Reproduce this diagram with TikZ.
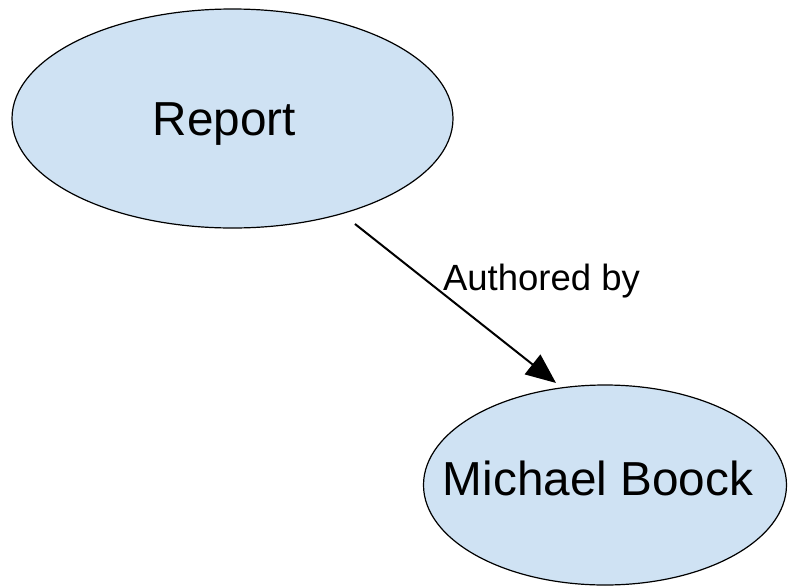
\documentclass[tikz,border=0pt]{standalone}
\usepackage{fontspec}
\setmainfont{Liberation Sans}
\usetikzlibrary{shapes.geometric,arrows.meta}
\definecolor{ellfill}{HTML}{CFE2F3}
\tikzset{
  ell/.style={ellipse, draw=black, fill=ellfill, line width=1.2pt, inner sep=0pt,
    font=\fontsize{47.7}{57}\selectfont, text height=34pt, text depth=0pt},
  conn/.style={line width=2pt, -{Triangle[length=30pt,width=25pt]}},
  lbl/.style={font=\fontsize{36.5}{44}\selectfont, inner sep=0pt}
}
\begin{document}
\begin{tikzpicture}[x=1pt,y=-1pt]
\useasboundingbox (0,0) rectangle (788,587);
\node[ell, minimum width=441pt, minimum height=219pt] (report) at (232.5,118.5) {\makebox[0pt]{Report\hspace{16pt}}};
\node[ell, minimum width=363pt, minimum height=200pt] (boock) at (605,485) {\makebox[0pt]{\raisebox{6.5pt}{Michael Boock}\hspace{14pt}}};
\draw[conn, shorten <=16pt, shorten >=7pt] (report.-41) -- (boock.114);
\node[lbl, anchor=base] (authored) at (541.5,290) {Authored by};
\end{tikzpicture}
\end{document}
